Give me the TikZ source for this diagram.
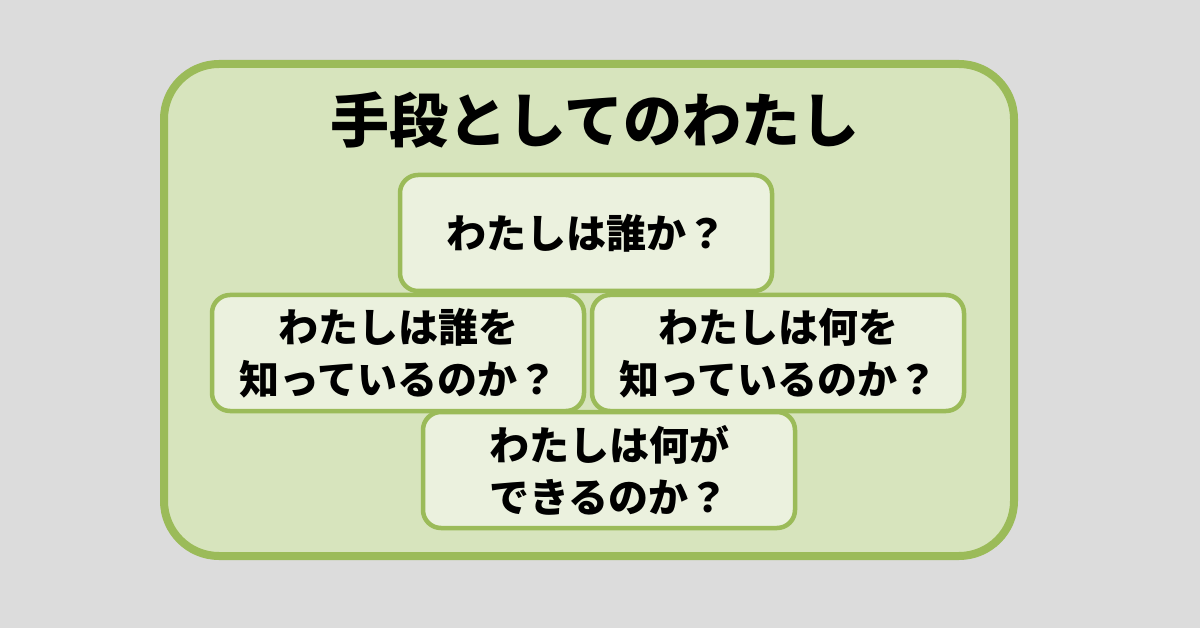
\documentclass[tikz,border=0pt]{standalone}
\usepackage{fontspec}
\setmainfont{Noto Sans CJK JP}
\usetikzlibrary{positioning}
\definecolor{leaf}{HTML}{9BBB59}
\definecolor{leaflight}{HTML}{D7E4BD}
\definecolor{leafpale}{HTML}{EBF1DE}
\definecolor{backgr}{HTML}{DCDCDC}
\tikzstyle{question}=[draw=leaf,fill=leafpale,line width=4.5pt,rounded corners=18pt,minimum width=372pt,minimum height=116pt,align=center,font=\fontsize{40}{52}\selectfont\bfseries,inner sep=0pt]
\begin{document}
\begin{tikzpicture}[x=1pt,y=-1pt]
\fill[backgr] (0,0) rectangle (1200,628);
\useasboundingbox (0,0) rectangle (1200,628);
\draw[leaf,fill=leaflight,line width=8pt,rounded corners=55pt] (164,64) rectangle (1014,556);
\node (title) at (595,120) {\fontsize{59}{62}\selectfont\bfseries 手段としてのわたし};
\node [question] (who) at (586,233) {わたしは誰か？};
\node [question] (knowwho) at (398,353) {わたしは誰を\\知っているのか？};
\node [question] (knowwhat) at (778,353) {わたしは何を\\知っているのか？};
\node [question] (cando) at (609,470) {わたしは何が\\できるのか？};
\end{tikzpicture}
\end{document}
